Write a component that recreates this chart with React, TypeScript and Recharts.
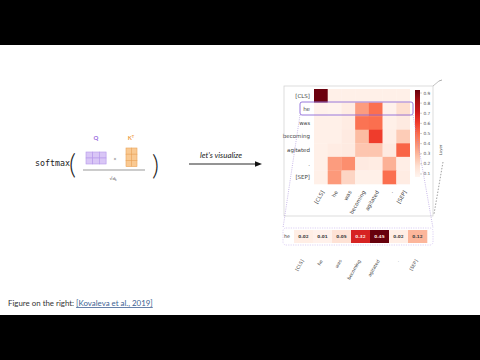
import React from 'react'
import { ScatterChart, Scatter, XAxis, YAxis, BarChart, Bar } from 'recharts'

// tokens of the sentence (rows = query, columns = key)
const tokens = ['[CLS]', 'he', 'was', 'becoming', 'agitated', '.', '[SEP]']

// attention weights, one array per query row
const rowCls = [0.92, 0.03, 0.03, 0.03, 0.03, 0.03, 0.03]
const rowHe = [0.02, 0.01, 0.05, 0.32, 0.45, 0.02, 0.12]
const rowWas = [0.03, 0.03, 0.05, 0.44, 0.45, 0.03, 0.06]
const rowBecoming = [0.03, 0.03, 0.06, 0.23, 0.58, 0.04, 0.18]
const rowAgitated = [0.03, 0.05, 0.06, 0.2, 0.2, 0.06, 0.48]
const rowDot = [0.03, 0.32, 0.36, 0.06, 0.05, 0.26, 0.04]
const rowSep = [0.03, 0.33, 0.15, 0.03, 0.03, 0.45, 0.05]

// zoomed "he" row shown underneath
const heFocus = [0.02, 0.01, 0.05, 0.32, 0.45, 0.02, 0.12]
const heFocusLabels = ['0.02', '0.01', '0.05', '0.32', '0.45', '0.02', '0.12']

const colorbarTicks = [0.1, 0.2, 0.3, 0.4, 0.5, 0.6, 0.7, 0.8, 0.9]
const colorbarRange = [0.07, 0.93]

const REDS = ['#fff5f0', '#fee0d2', '#fcbba1', '#fc9272', '#fb6a4a', '#ef3b2c', '#cb181d', '#a50f15', '#67000d']

function reds(t: number) {
  const c = Math.max(0, Math.min(1, t)) * (REDS.length - 1)
  const i = Math.min(REDS.length - 2, Math.floor(c))
  const f = c - i
  const a = parseInt(REDS[i].slice(1), 16)
  const b = parseInt(REDS[i + 1].slice(1), 16)
  const mix = (s: number) => Math.round(((a >> s) & 255) * (1 - f) + ((b >> s) & 255) * f)
  return `rgb(${mix(16)},${mix(8)},${mix(0)})`
}

const matrix = [rowCls, rowHe, rowWas, rowBecoming, rowAgitated, rowDot, rowSep]
const heatData = matrix.flatMap((row, r) => row.map((v, c) => ({ x: c + 0.5, y: r + 0.5, v })))
const focusData = heFocus.map((v, c) => ({ x: c + 0.5, y: 0.5, v, label: heFocusLabels[c] }))
const centers = tokens.map((_, i) => i + 0.5)

const LABEL_FONT = 'DejaVu Sans, sans-serif'

// main heatmap plot box: 96 x 95
const MAIN_W = 96
const MAIN_H = 95
const FOCUS_W = 133
const FOCUS_H = 13

const MainCell = (props: any) => {
  const { cx, cy, payload } = props
  const w = MAIN_W / 7
  const h = MAIN_H / 7
  return <rect x={cx - w / 2} y={cy - h / 2} width={w + 0.3} height={h + 0.3} fill={reds(payload.v / 0.93)} />
}

const FocusCell = (props: any) => {
  const { cx, cy, payload } = props
  const w = FOCUS_W / 7
  return (
    <g>
      <rect x={cx - w / 2} y={cy - FOCUS_H / 2} width={w + 0.3} height={FOCUS_H} fill={reds(payload.v / 0.45)} />
      <text
        x={cx}
        y={cy}
        dy="0.35em"
        textAnchor="middle"
        fontSize={4.2}
        fontWeight="bold"
        fontFamily={LABEL_FONT}
        fill={payload.v > 0.25 ? '#fde0dc' : '#444'}
      >
        {payload.label}
      </text>
    </g>
  )
}

const SlantTick = (props: any) => {
  const { x, y, payload, size, dx, dy } = props
  const tx = x + dx
  const ty = y + dy
  return (
    <text
      x={tx}
      y={ty}
      dy="0.35em"
      transform={`rotate(-60 ${tx} ${ty})`}
      textAnchor="end"
      fontSize={size}
      fontFamily={LABEL_FONT}
      fill="#444"
    >
      {tokens[Math.floor(payload.value)]}
    </text>
  )
}

const RowTick = (props: any) => {
  const { x, y, payload, size } = props
  return (
    <text x={x - 2} y={y} dy="0.35em" textAnchor="end" fontSize={size} fontFamily={LABEL_FONT} fill="#444">
      {payload.value === 0.5 && size < 5 ? 'he' : tokens[Math.floor(payload.value)]}
    </text>
  )
}

function Formula() {
  return (
    <g>
      <text x={35} y={166} fontFamily="DejaVu Sans Mono, monospace" fontSize={8.3} fill="#222">
        softmax
      </text>
      <text x={69} y={174} fontFamily="Lato, sans-serif" fontWeight={300} fontSize={27} fill="#222">
        (
      </text>
      <text x={152} y={175} fontFamily="Lato, sans-serif" fontWeight={300} fontSize={27} fill="#222">
        )
      </text>
      <text x={96} y={140} textAnchor="middle" fontFamily="Lato, sans-serif" fontWeight="bold" fontSize={6} fill="#9a6be0">
        Q
      </text>
      <text x={131} y={140} textAnchor="middle" fontFamily="Lato, sans-serif" fontWeight="bold" fontSize={6} fill="#eea04a">
        K<tspan dy={-2} fontSize={4}>T</tspan>
      </text>
      {[0, 1, 2].map((c) =>
        [0, 1].map((r) => (
          <rect key={`q${c}${r}`} x={86 + c * 6.7} y={152 + r * 6} width={6.7} height={6} fill="#d9c6f6" stroke="#b597ea" strokeWidth={0.6} />
        ))
      )}
      <text x={115} y={161} textAnchor="middle" fontFamily="Lato, sans-serif" fontSize={5} fill="#666">
        ×
      </text>
      {[0, 1].map((c) =>
        [0, 1, 2].map((r) => (
          <rect key={`k${c}${r}`} x={126 + c * 5.5} y={148 + r * 6.2} width={5.5} height={6.2} fill="#f9c992" stroke="#e9a45a" strokeWidth={0.6} />
        ))
      )}
      <line x1={83} x2={145} y1={170} y2={170} stroke="#555" strokeWidth={0.6} />
      <text x={113} y={180} textAnchor="middle" fontFamily="Lato, sans-serif" fontSize={4.5} fill="#555">
        √d<tspan dy={1} fontSize={3}>k</tspan>
      </text>
      <text x={221} y={158} textAnchor="middle" fontFamily="Lato, sans-serif" fontStyle="italic" fontSize={7.9} fill="#222">
        let's visualize
      </text>
      <line x1={189} x2={256} y1={164} y2={164} stroke="#111" strokeWidth={0.9} />
      <path d="M 262 164 L 255 161.3 L 255 166.7 Z" fill="#111" />
    </g>
  )
}

export default function App() {
  return (
    <div style={{ position: 'absolute', left: 0, top: 0, width: 480, height: 360, background: '#fff', overflow: 'hidden' }}>
      {/* main attention heatmap */}
      <div style={{ position: 'absolute', left: 270, top: 84 }}>
        <ScatterChart width={140} height={136} margin={{ top: 5, right: 0, bottom: 0, left: 0 }}>
          <XAxis
            type="number"
            dataKey="x"
            domain={[0, 7]}
            ticks={centers}
            interval={0}
            axisLine={false}
            tickLine={false}
            tickSize={0}
            height={36}
            tick={<SlantTick size={5.3} dx={2} dy={5} />}
          />
          <YAxis
            type="number"
            dataKey="y"
            domain={[0, 7]}
            reversed
            ticks={centers}
            interval={0}
            axisLine={false}
            tickLine={false}
            tickSize={0}
            width={44}
            tick={<RowTick size={5.5} />}
          />
          <Scatter data={heatData} shape={MainCell} isAnimationActive={false} />
        </ScatterChart>
      </div>

      {/* colorbar */}
      <div style={{ position: 'absolute', left: 410, top: 85 }}>
        <BarChart
          width={30}
          height={100}
          data={[{ k: 'cb', r: colorbarRange }]}
          margin={{ top: 5, right: 0, bottom: 8, left: 5 }}
          barCategoryGap={0}
        >
          <defs>
            <linearGradient id="cbar" x1="0" y1="1" x2="0" y2="0">
              {REDS.map((c, i) => (
                <stop key={c} offset={i / (REDS.length - 1)} stopColor={c} />
              ))}
            </linearGradient>
          </defs>
          <XAxis dataKey="k" hide />
          <YAxis
            orientation="right"
            domain={colorbarRange}
            ticks={colorbarTicks}
            interval={0}
            width={20}
            axisLine={false}
            tickSize={2}
            tickLine={{ stroke: '#888', strokeWidth: 0.4 }}
            tickMargin={1.5}
            tickFormatter={(v: number) => v.toFixed(1)}
            tick={{ fontSize: 4.3, fill: '#555', fontFamily: LABEL_FONT }}
          />
          <Bar dataKey="r" fill="url(#cbar)" isAnimationActive={false} />
        </BarChart>
      </div>

      {/* zoomed "he" row */}
      <div style={{ position: 'absolute', left: 270, top: 225 }}>
        <ScatterChart width={160} height={58} margin={{ top: 5, right: 3, bottom: 0, left: 0 }}>
          <XAxis
            type="number"
            dataKey="x"
            domain={[0, 7]}
            ticks={centers}
            interval={0}
            axisLine={false}
            tickLine={false}
            tickSize={0}
            height={40}
            tick={<SlantTick size={4.5} dx={-1} dy={15} />}
          />
          <YAxis
            type="number"
            dataKey="y"
            domain={[0, 1]}
            ticks={[0.5]}
            axisLine={false}
            tickLine={false}
            tickSize={0}
            width={24}
            tick={<RowTick size={4.8} />}
          />
          <Scatter data={focusData} shape={FocusCell} isAnimationActive={false} />
        </ScatterChart>
      </div>

      <svg width={480} height={360} style={{ position: 'absolute', left: 0, top: 0, pointerEvents: 'none' }}>
        <rect x={0} y={0} width={480} height={45} fill="#000" />
        <rect x={0} y={315} width={480} height={45} fill="#000" />
        <Formula />

        {/* layer frame */}
        <rect x={284} y={86} width={149} height={130} fill="none" stroke="#cfcfcf" strokeWidth={0.7} />
        <line x1={433} y1={86} x2={439} y2={81} stroke="#999" strokeWidth={0.6} />
        <line x1={439} y1={81} x2={442} y2={80} stroke="#777" strokeWidth={0.6} />
        <line x1={443} y1={162} x2={434} y2={214} stroke="#777" strokeWidth={0.7} strokeDasharray="1.5 1.5" />
        <text
          x={442}
          y={150}
          transform="rotate(-90 442 150)"
          textAnchor="middle"
          fontSize={3.8}
          fontFamily={LABEL_FONT}
          fill="#555"
        >
          Layer
        </text>

        {/* highlight + zoom connectors */}
        <rect x={300} y={102} width={113} height={13} rx={2} fill="none" stroke="#8d6ad8" strokeWidth={0.9} />
        <line x1={300} y1={115} x2={283} y2={228} stroke="#a58ad8" strokeWidth={0.6} strokeDasharray="1 1.2" />
        <line x1={413} y1={115} x2={433} y2={228} stroke="#a58ad8" strokeWidth={0.6} strokeDasharray="1 1.2" />
        <rect x={283} y={228} width={150} height={17} rx={3} fill="none" stroke="#c6b2ec" strokeWidth={0.6} strokeDasharray="1.2 1.2" />

        <text x={8} y={306} fontFamily="Lato, sans-serif" fontSize={7.9} fill="#333">
          Figure on the right:{' '}
          <tspan fill="#3d5f93" textDecoration="underline">
            [Kovaleva et al., 2019]
          </tspan>
        </text>
      </svg>
    </div>
  )
}
